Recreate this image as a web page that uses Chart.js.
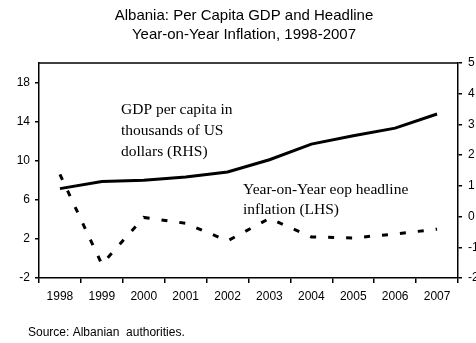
<!DOCTYPE html>
<html>
<head>
<meta charset="utf-8">
<script src="https://cdn.jsdelivr.net/npm/chart.js@4.4.1/dist/chart.umd.min.js"></script>
<style>
  html, body { margin: 0; padding: 0; background: #fff; }
  #wrap { width: 476px; height: 343px; position: relative; }
</style>
</head>
<body>
<div id="wrap"><canvas id="c" width="476" height="343"></canvas></div>
<script>
// Albania: GDP per capita (thousands of US$, right axis) and
// year-on-year end-of-period headline inflation (percent, left axis)
const years = ['1998', '1999', '2000', '2001', '2002', '2003', '2004', '2005', '2006', '2007'];
const gdpPerCapita = [0.91, 1.14, 1.18, 1.29, 1.45, 1.85, 2.36, 2.63, 2.88, 3.34];
const inflation = [8.6, -0.6, 4.2, 3.6, 1.8, 4.1, 2.2, 2.1, 2.5, 3.0];
const leftTicks = [-2, 2, 6, 10, 14, 18];
const rightTicks = [-2, -1, 0, 1, 2, 3, 4, 5];

const titleLines = ['Albania: Per Capita GDP and Headline', 'Year-on-Year Inflation, 1998-2007'];
const gdpNote = ['GDP per capita in', 'thousands of US', 'dollars (RHS)'];
const inflNote = ['Year-on-Year eop headline', 'inflation (LHS)'];
const sourceNote = 'Source: Albanian  authorities.';

const sans = '"Liberation Sans", Arial, sans-serif';
const serif = '"Liberation Serif", "Times New Roman", serif';

// Title, frame top edge, in-plot notes and source line
const decorations = {
  id: 'decorations',
  afterDraw(chart) {
    const ctx = chart.ctx;
    const a = chart.chartArea;
    ctx.save();
    ctx.strokeStyle = '#000';
    ctx.lineWidth = 1.5;
    ctx.beginPath();
    ctx.moveTo(a.left, a.top);
    ctx.lineTo(a.right, a.top);
    ctx.stroke();

    ctx.fillStyle = '#000';
    ctx.textBaseline = 'middle';
    ctx.textAlign = 'center';
    ctx.font = '15px ' + sans;
    titleLines.forEach((t, i) => ctx.fillText(t, 244, 16 + i * 19));

    ctx.textAlign = 'left';
    ctx.font = '15.5px ' + serif;
    gdpNote.forEach((t, i) => ctx.fillText(t, 121, 110 + i * 21));
    inflNote.forEach((t, i) => ctx.fillText(t, 243, 190 + i * 20));

    ctx.font = '12px ' + sans;
    ctx.fillText(sourceNote, 28, 333);
    ctx.restore();
  }
};

new Chart(document.getElementById('c'), {
  type: 'line',
  data: {
    labels: years,
    datasets: [
      {
        label: 'GDP per capita (RHS)',
        data: gdpPerCapita,
        yAxisID: 'y1',
        borderColor: '#000',
        borderWidth: 3,
        pointRadius: 0,
        tension: 0,
        fill: false
      },
      {
        label: 'Inflation (LHS)',
        data: inflation,
        yAxisID: 'y',
        borderColor: '#000',
        borderWidth: 3,
        borderDash: [6, 12],
        pointRadius: 0,
        tension: 0,
        fill: false
      }
    ]
  },
  options: {
    responsive: false,
    animation: false,
    layout: { padding: { top: 63, bottom: 35, left: 0, right: 0 } },
    plugins: { legend: { display: false }, title: { display: false }, tooltip: { enabled: false } },
    scales: {
      x: {
        offset: true,
        grid: { offset: true, drawOnChartArea: false, tickLength: 5, color: '#000', lineWidth: 1.5 },
        border: { display: true, color: '#000', width: 1.5 },
        ticks: { color: '#000', font: { family: sans, size: 12 }, padding: 6, maxRotation: 0 },
        afterFit(s) { s.height = 30; }
      },
      y: {
        position: 'left',
        min: -2,
        max: 20,
        afterBuildTicks(s) { s.ticks = leftTicks.map(v => ({ value: v })); },
        grid: { drawOnChartArea: false, tickLength: 4, color: '#000', lineWidth: 1.5 },
        border: { display: true, color: '#000', width: 1.5 },
        ticks: { color: '#000', font: { family: sans, size: 12 }, padding: 5 },
        afterFit(s) { s.width = 39; }
      },
      y1: {
        position: 'right',
        min: -2,
        max: 5,
        afterBuildTicks(s) { s.ticks = rightTicks.map(v => ({ value: v })); },
        grid: { drawOnChartArea: false, tickLength: 4, color: '#000', lineWidth: 1.5 },
        border: { display: true, color: '#000', width: 1.5 },
        ticks: { color: '#000', font: { family: sans, size: 12 }, padding: 6, align: 'center', crossAlign: 'near' },
        afterFit(s) { s.width = 18; }
      }
    }
  },
  plugins: [decorations]
});
</script>
</body>
</html>
